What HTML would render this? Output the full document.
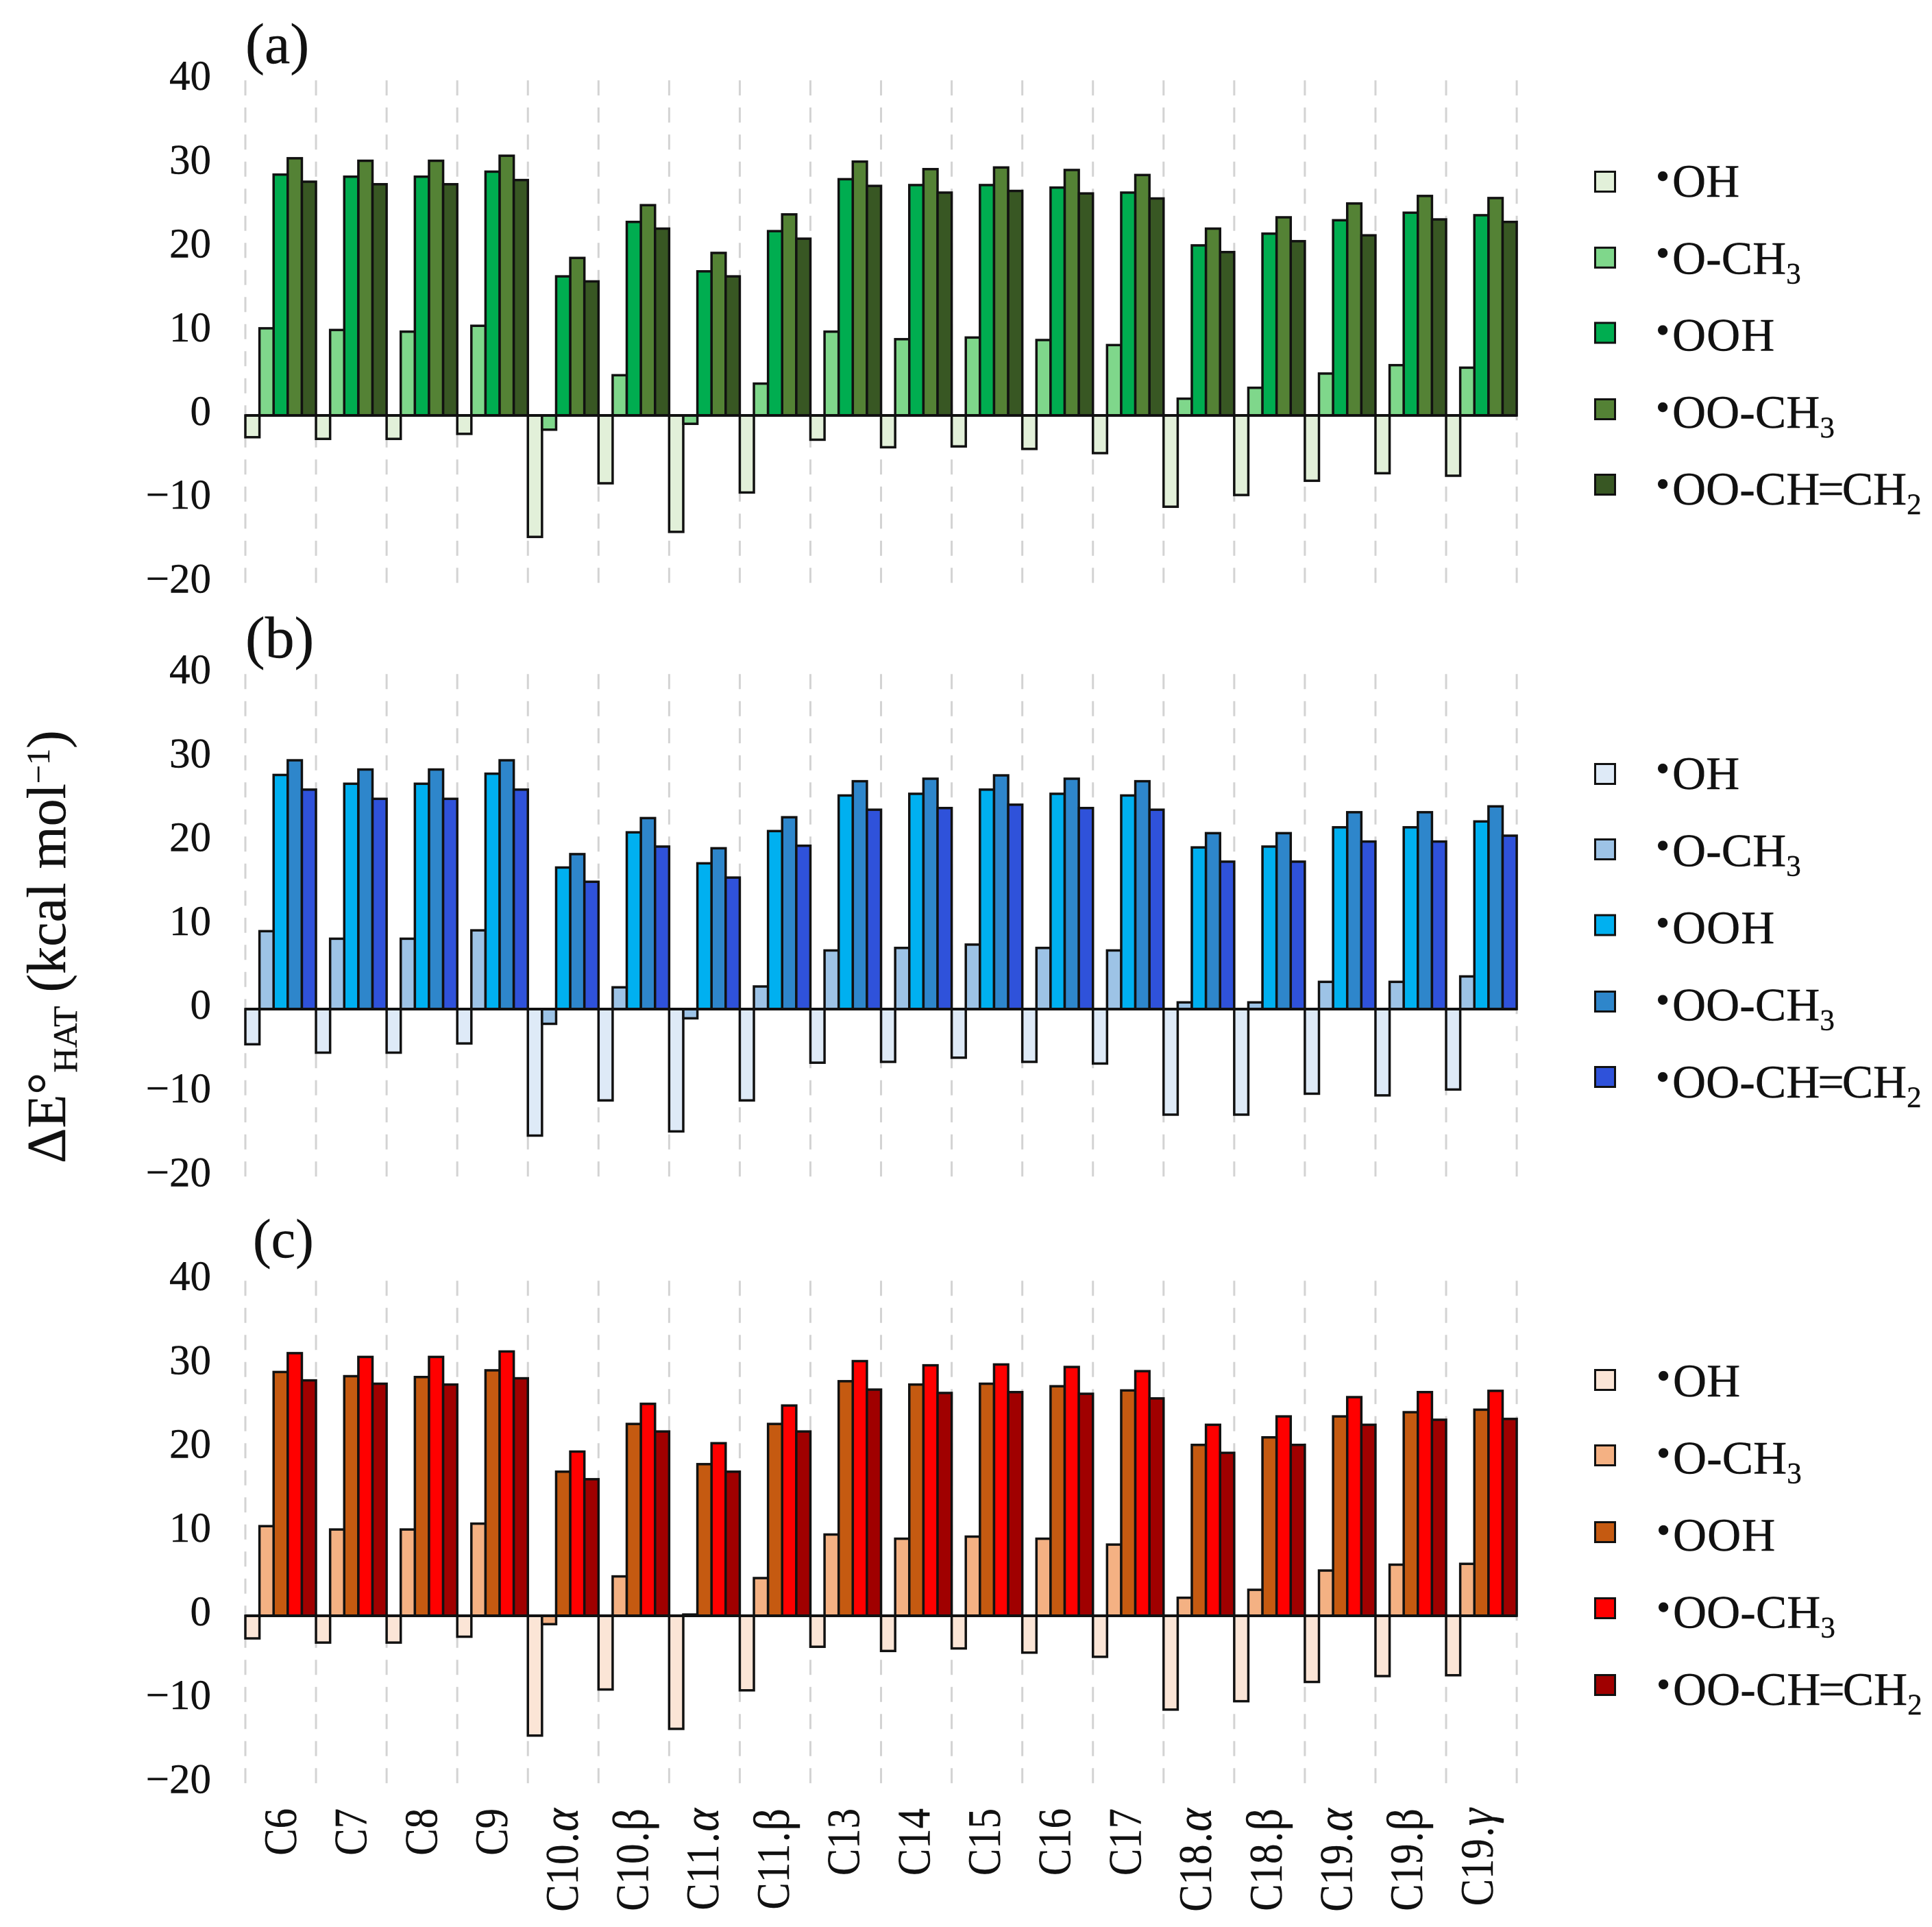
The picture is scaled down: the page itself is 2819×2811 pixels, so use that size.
<!DOCTYPE html>
<html lang="en">
<head>
<meta charset="utf-8">
<title>Delta E HAT bar charts</title>
<style>
html,body{margin:0;padding:0;background:#fff;}
svg{display:block;}
text{font-family:"Liberation Serif","DejaVu Serif",serif;fill:#111;stroke:#111;stroke-width:.4px;}
.panel-letter{font-size:84px;}
.lg{font-size:68px;}
.dot{font-size:58px;}
.sub{font-size:43px;}
</style>
</head>
<body>
<svg id="chart" xmlns="http://www.w3.org/2000/svg" width="2819" height="2811" viewBox="0 0 2819 2811">
  <rect x="0" y="0" width="2819" height="2811" fill="#fff"/>
  <g id="plots"></g>

  <text class="panel-letter" x="358" y="92">(a)</text>
  <text class="panel-letter" x="358" y="959" style="font-size:86px">(b)</text>
  <text class="panel-letter" x="369" y="1834" style="font-size:80px">(c)</text>

  <text transform="translate(95,1697) rotate(-90)" font-size="80">ΔE°<tspan font-size="50" dy="17">HAT</tspan><tspan dy="-17"> (kcal mol</tspan><tspan font-size="48" dy="-23">−1</tspan><tspan dy="23">)</tspan></text>

  <g>
    <rect x="2327.5" y="250.5" width="29" height="29" fill="#E2F0D9" stroke="#111" stroke-width="3"/>
    <rect x="2327.5" y="361.3" width="29" height="29" fill="#7FD78B" stroke="#111" stroke-width="3"/>
    <rect x="2327.5" y="471" width="29" height="29" fill="#00AD50" stroke="#111" stroke-width="3"/>
    <rect x="2327.5" y="582.5" width="29" height="29" fill="#548235" stroke="#111" stroke-width="3"/>
    <rect x="2327.5" y="692.5" width="29" height="29" fill="#385723" stroke="#111" stroke-width="3"/>
    <text class="lg" x="2416" y="287"><tspan class="dot" dy="-10.7">•</tspan><tspan dx="3.7" dy="10.7">OH</tspan></text>
    <text class="lg" x="2416" y="399.3"><tspan class="dot" dy="-10.7">•</tspan><tspan dx="3.7" dy="10.7">O-CH</tspan><tspan class="sub" dy="14">3</tspan></text>
    <text class="lg" x="2416" y="511.6"><tspan class="dot" dy="-10.7">•</tspan><tspan dx="3.7" dy="10.7" letter-spacing="1">OOH</tspan></text>
    <text class="lg" x="2416" y="624"><tspan class="dot" dy="-10.7">•</tspan><tspan dx="3.7" dy="10.7">OO-CH</tspan><tspan class="sub" dy="14">3</tspan></text>
    <text class="lg" x="2416" y="736"><tspan class="dot" dy="-10.7">•</tspan><tspan dx="3.7" dy="10.7">OO-CH</tspan><tspan dx="-3">=</tspan><tspan dx="-3">CH</tspan><tspan class="sub" dy="14">2</tspan></text>
  </g>

  <g>
    <rect x="2327.5" y="1114.5" width="29" height="29" fill="#DEEAF7" stroke="#111" stroke-width="3"/>
    <rect x="2327.5" y="1224.5" width="29" height="29" fill="#9DC3E6" stroke="#111" stroke-width="3"/>
    <rect x="2327.5" y="1335" width="29" height="29" fill="#00B0F0" stroke="#111" stroke-width="3"/>
    <rect x="2327.5" y="1446.5" width="29" height="29" fill="#2E86CB" stroke="#111" stroke-width="3"/>
    <rect x="2327.5" y="1556.5" width="29" height="29" fill="#2F52DA" stroke="#111" stroke-width="3"/>
    <text class="lg" x="2416" y="1151"><tspan class="dot" dy="-10.7">•</tspan><tspan dx="3.7" dy="10.7">OH</tspan></text>
    <text class="lg" x="2416" y="1263.5"><tspan class="dot" dy="-10.7">•</tspan><tspan dx="3.7" dy="10.7">O-CH</tspan><tspan class="sub" dy="14">3</tspan></text>
    <text class="lg" x="2416" y="1376"><tspan class="dot" dy="-10.7">•</tspan><tspan dx="3.7" dy="10.7" letter-spacing="1">OOH</tspan></text>
    <text class="lg" x="2416" y="1488.5"><tspan class="dot" dy="-10.7">•</tspan><tspan dx="3.7" dy="10.7">OO-CH</tspan><tspan class="sub" dy="14">3</tspan></text>
    <text class="lg" x="2416" y="1601"><tspan class="dot" dy="-10.7">•</tspan><tspan dx="3.7" dy="10.7">OO-CH</tspan><tspan dx="-3">=</tspan><tspan dx="-3">CH</tspan><tspan class="sub" dy="14">2</tspan></text>
  </g>

  <g>
    <rect x="2327.5" y="1998.5" width="29" height="29" fill="#FBE5D6" stroke="#111" stroke-width="3"/>
    <rect x="2327.5" y="2108.5" width="29" height="29" fill="#F4B183" stroke="#111" stroke-width="3"/>
    <rect x="2327.5" y="2220.5" width="29" height="29" fill="#C55A11" stroke="#111" stroke-width="3"/>
    <rect x="2327.5" y="2331.5" width="29" height="29" fill="#FF0000" stroke="#111" stroke-width="3"/>
    <rect x="2327.5" y="2443.5" width="29" height="29" fill="#A00000" stroke="#111" stroke-width="3"/>
    <text class="lg" x="2417" y="2037"><tspan class="dot" dy="-10.7">•</tspan><tspan dx="3.7" dy="10.7">OH</tspan></text>
    <text class="lg" x="2417" y="2149.5"><tspan class="dot" dy="-10.7">•</tspan><tspan dx="3.7" dy="10.7">O-CH</tspan><tspan class="sub" dy="14">3</tspan></text>
    <text class="lg" x="2417" y="2262"><tspan class="dot" dy="-10.7">•</tspan><tspan dx="3.7" dy="10.7" letter-spacing="1">OOH</tspan></text>
    <text class="lg" x="2417" y="2374.5"><tspan class="dot" dy="-10.7">•</tspan><tspan dx="3.7" dy="10.7">OO-CH</tspan><tspan class="sub" dy="14">3</tspan></text>
    <text class="lg" x="2417" y="2487"><tspan class="dot" dy="-10.7">•</tspan><tspan dx="3.7" dy="10.7">OO-CH</tspan><tspan dx="-3">=</tspan><tspan dx="-3">CH</tspan><tspan class="sub" dy="14">2</tspan></text>
  </g>
</svg>

<script>
var categories = ["C6","C7","C8","C9","C10.α","C10.β","C11.α","C11.β","C13","C14","C15","C16","C17","C18.α","C18.β","C19.α","C19.β","C19.γ"];
var tickValues = [40,30,20,10,0,-10,-20];
var tickLabels = ["40","30","20","10","0","−10","−20"];
var seriesNames = ["oh","och3","ooh","ooch3","oochch2"];

var panelA_OH = [-2.6,-2.8,-2.8,-2.2,-14.5,-8.1,-13.9,-9.2,-2.9,-3.8,-3.7,-4.0,-4.5,-10.9,-9.5,-7.8,-6.9,-7.2];
var panelA_OCH3 = [10.4,10.2,10.0,10.7,-1.7,4.8,-1.0,3.8,10.0,9.1,9.3,9.0,8.4,2.0,3.3,5.0,6.0,5.7];
var panelA_OOH = [28.75,28.5,28.5,29.1,16.6,23.1,17.2,22.0,28.2,27.5,27.5,27.2,26.6,20.3,21.7,23.3,24.2,23.9];
var panelA_OOCH3 = [30.7,30.4,30.4,31.0,18.8,25.1,19.4,24.0,30.3,29.4,29.6,29.3,28.7,22.3,23.65,25.3,26.2,25.95];
var panelA_OOCHCH2 = [27.9,27.6,27.6,28.1,16.0,22.3,16.6,21.1,27.4,26.6,26.8,26.5,25.9,19.5,20.8,21.5,23.4,23.1];

var panelB_OH = [-4.2,-5.2,-5.2,-4.1,-15.1,-10.9,-14.6,-10.9,-6.4,-6.3,-5.8,-6.3,-6.5,-12.6,-12.6,-10.1,-10.3,-9.6];
var panelB_OCH3 = [9.3,8.4,8.4,9.4,-1.76,2.6,-1.1,2.7,7.0,7.3,7.7,7.3,7.0,0.8,0.8,3.25,3.25,3.9];
var panelB_OOH = [27.95,26.9,26.9,28.1,16.9,21.1,17.4,21.25,25.5,25.7,26.2,25.7,25.5,19.3,19.4,21.7,21.7,22.4];
var panelB_OOCH3 = [29.7,28.6,28.6,29.7,18.5,22.8,19.2,22.9,27.2,27.5,27.9,27.5,27.2,21.0,21.0,23.5,23.5,24.2];
var panelB_OOCHCH2 = [26.2,25.1,25.1,26.2,15.2,19.4,15.7,19.5,23.8,24.0,24.4,24.0,23.8,17.6,17.6,20.0,20.0,20.7];

var panelC_OH = [-2.7,-3.2,-3.2,-2.5,-14.3,-8.8,-13.5,-8.9,-3.7,-4.2,-3.9,-4.4,-4.9,-11.2,-10.2,-7.9,-7.2,-7.1];
var panelC_OCH3 = [10.7,10.3,10.3,11.0,-1.0,4.7,0.15,4.5,9.7,9.2,9.45,9.2,8.5,2.15,3.1,5.4,6.1,6.2];
var panelC_OOH = [29.1,28.6,28.5,29.3,17.2,22.9,18.1,22.9,28.0,27.6,27.7,27.4,26.9,20.4,21.3,23.8,24.3,24.6];
var panelC_OOCH3 = [31.35,30.9,30.9,31.55,19.6,25.3,20.6,25.1,30.4,29.9,30.0,29.7,29.2,22.8,23.8,26.1,26.7,26.85];
var panelC_OOCHCH2 = [28.1,27.7,27.6,28.35,16.3,22.0,17.2,22.0,27.0,26.6,26.7,26.5,25.95,19.45,20.4,22.8,23.4,23.5];

var colorsA = ["#E2F0D9","#7FD78B","#00AD50","#548235","#385723"];
var colorsB = ["#DEEAF7","#9DC3E6","#00B0F0","#2E86CB","#2F52DA"];
var colorsC = ["#FBE5D6","#F4B183","#C55A11","#FF0000","#A00000"];

var SVG_NS = "http://www.w3.org/2000/svg";
var plots = document.getElementById("plots");
var PLOT_LEFT = 358, CAT_W = 103.06, SER_COUNT = 5, UNIT_PX = 12.22;

function xCat(i){ return PLOT_LEFT + i * CAT_W; }
function xBar(i, s){ return xCat(i) + s * (CAT_W / SER_COUNT); }
function yVal(zero, v){ return zero - v * UNIT_PX; }

function drawPanel(key, zero, colors, series){
  var g = document.createElementNS(SVG_NS, "g");
  
  
  plots.appendChild(g);

  for (var i = 0; i <= categories.length; i++){
    var gl = document.createElementNS(SVG_NS, "line");
    
    
    gl.setAttribute("x1", xCat(i));
    gl.setAttribute("x2", xCat(i));
    gl.setAttribute("y1", yVal(zero, 40));
    gl.setAttribute("y2", yVal(zero, -20));
    gl.setAttribute("stroke", "#d3d3d3");
    gl.setAttribute("stroke-width", "3");
    gl.setAttribute("stroke-dasharray", "22 17.5");
    g.appendChild(gl);
  }

  for (var t = 0; t < tickValues.length; t++){
    var tl = document.createElementNS(SVG_NS, "text");
    
    
    tl.setAttribute("x", 308);
    tl.setAttribute("y", yVal(zero, tickValues[t]) + 14);
    tl.setAttribute("text-anchor", "end");
    tl.setAttribute("font-size", "61");
    tl.textContent = tickLabels[t];
    g.appendChild(tl);
  }

  for (var c = 0; c < categories.length; c++){
    for (var s = 0; s < series.length; s++){
      var v = series[s][c];
      var top = yVal(zero, Math.max(v, 0));
      var bottom = yVal(zero, Math.min(v, 0));
      var r = document.createElementNS(SVG_NS, "rect");
      
      
      r.setAttribute("x", xBar(c, s));
      r.setAttribute("y", top);
      r.setAttribute("width", CAT_W / SER_COUNT);
      r.setAttribute("height", bottom - top);
      r.setAttribute("fill", colors[s]);
      r.setAttribute("stroke", "#111");
      r.setAttribute("stroke-width", "3.5");
      g.appendChild(r);
    }
  }

  var axis = document.createElementNS(SVG_NS, "line");
  
  
  axis.setAttribute("x1", xCat(0));
  axis.setAttribute("x2", xCat(categories.length));
  axis.setAttribute("y1", yVal(zero, 0));
  axis.setAttribute("y2", yVal(zero, 0));
  axis.setAttribute("stroke", "#111");
  axis.setAttribute("stroke-width", "4");
  g.appendChild(axis);
}

drawPanel("a", 606, colorsA, [panelA_OH, panelA_OCH3, panelA_OOH, panelA_OOCH3, panelA_OOCHCH2]);
drawPanel("b", 1472, colorsB, [panelB_OH, panelB_OCH3, panelB_OOH, panelB_OOCH3, panelB_OOCHCH2]);
drawPanel("c", 2357, colorsC, [panelC_OH, panelC_OCH3, panelC_OOH, panelC_OOCH3, panelC_OOCHCH2]);

var catGroup = document.createElementNS(SVG_NS, "g");


plots.appendChild(catGroup);

for (var k = 0; k < categories.length; k++){
  var lab = document.createElementNS(SVG_NS, "text");
  
  
  lab.setAttribute("text-anchor", "end");
  lab.setAttribute("font-size", "68");
  lab.setAttribute("transform", "translate(" + (432 + k * 102.7) + ",2638) rotate(-90) scale(0.865,1)");
  var name = categories[k];
  var dotAt = name.indexOf(".");
  if (dotAt >= 0){
    var greek = name.slice(dotAt + 1);
    lab.appendChild(document.createTextNode(name.slice(0, dotAt)));
    var dotSpan = document.createElementNS(SVG_NS, "tspan");
    dotSpan.setAttribute("dx", "3");
    dotSpan.textContent = ".";
    lab.appendChild(dotSpan);
    var gr = document.createElementNS(SVG_NS, "tspan");
    gr.setAttribute("dx", "2");
    gr.setAttribute("font-size", "74");
    if (greek !== "β"){
      gr.setAttribute("font-style", "italic");
    }
    gr.textContent = greek;
    lab.appendChild(gr);
  } else {
    lab.textContent = name;
  }
  catGroup.appendChild(lab);
}
</script>
</body>
</html>
